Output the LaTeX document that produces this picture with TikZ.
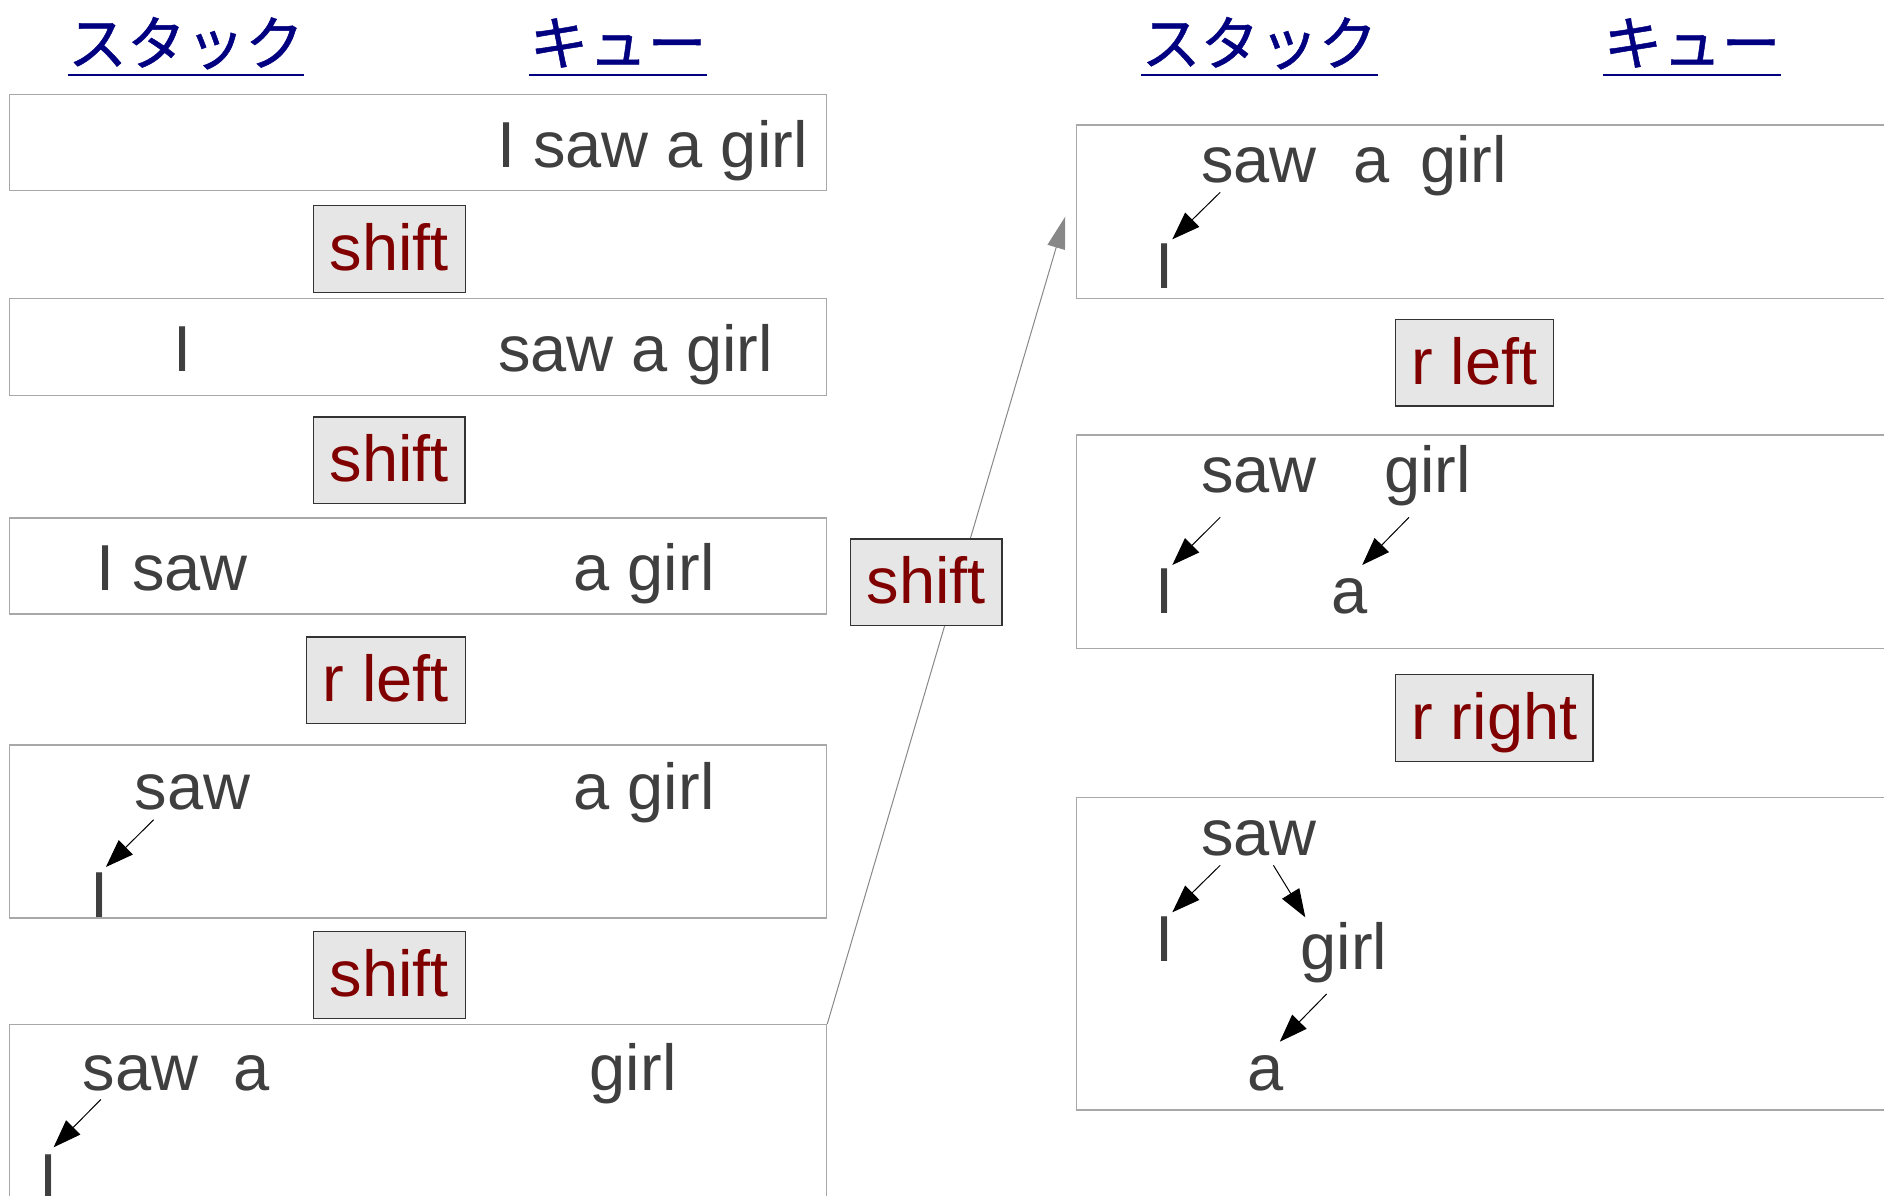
\documentclass[tikz,border=0pt]{standalone}
\usepackage{fontspec}
\setmainfont{Liberation Sans}
\newfontfamily\jpfont[FakeBold=0.8]{Noto Sans CJK JP}
\usetikzlibrary{arrows.meta,calc}
\definecolor{txtgrey}{HTML}{3F3F3F}
\definecolor{boxline}{HTML}{A8A8A8}
\definecolor{btnfill}{HTML}{E6E6E6}
\definecolor{btnline}{HTML}{333333}
\definecolor{btntext}{HTML}{800000}
\definecolor{headblue}{HTML}{000080}
\definecolor{linkgrey}{HTML}{888888}
\tikzset{
 word/.style={inner sep=0pt, outer sep=0pt, anchor=base west, text=txtgrey, font=\fontsize{65}{78}\selectfont},
 statebox/.style={draw=boxline, line width=1.5pt, fill=white, inner sep=0pt},
 opbtn/.style={draw=btnline, line width=1.3pt, fill=btnfill, text=btntext, font=\fontsize{65}{78}\selectfont, inner sep=0pt, minimum height=86.6pt, text height=43pt, text depth=0pt},
 header/.style={inner sep=0pt, anchor=base, text=headblue, font=\jpfont\fontsize{59}{70}\selectfont},
 uline/.style={draw=headblue, line width=2.8pt},
 dep/.style={draw=black, line width=1pt, -{Triangle[length=28pt,width=20pt]}},
 link/.style={draw=linkgrey, line width=1pt, -{Triangle[length=32pt,width=18pt]}}
}
\begin{document}
\begin{tikzpicture}[x=1pt,y=-1pt]
\useasboundingbox (0,0) rectangle (1884,1196);
\clip (0,0) rectangle (1884,1196);
\fill[white] (0,0) rectangle (1884,1196);
% headers
\node[header] (h1) at (186,65) {スタック};
\node[header] (h2) at (618,65) {キュー};
\node[header] (h3) at (1259.5,65) {スタック};
\node[header] (h4) at (1692,65) {キュー};
\foreach \h in {h1,h2,h3,h4}{
  \draw[uline] ($(\h.base west)+(0,10)$) -- ($(\h.base east)+(0,10)$);
}
% state boxes
\node[statebox, minimum width=817pt, minimum height=96pt] (b1) at (418,142.5) {};
\node[statebox, minimum width=817pt, minimum height=96.6pt] (b2) at (418,347) {};
\node[statebox, minimum width=817pt, minimum height=96pt] (b3) at (418,566) {};
\node[statebox, minimum width=817pt, minimum height=173pt] (b4) at (418,831.5) {};
\node[statebox, minimum width=817pt, minimum height=235.3pt] (b5) at (418,1142.35) {};
\node[statebox, minimum width=873.4pt, minimum height=173.3pt] (r1) at (1513.3,211.65) {};
\node[statebox, minimum width=873.4pt, minimum height=213.3pt] (r2) at (1513.3,541.65) {};
\node[statebox, minimum width=873.4pt, minimum height=312.3pt] (r3) at (1513.3,953.85) {};
% link from last left state to first right state
\draw[link] (b5.north east) -- ($(r1.west)+(-10.6,5)$);
% operation buttons
\node[opbtn, minimum width=152pt] (sh1) at (389.4,249) {shift};
\node[opbtn, minimum width=151.4pt] (sh2) at (389.3,460.2) {shift};
\node[opbtn, minimum width=159pt] (rl1) at (385.7,680.2) {r left};
\node[opbtn, minimum width=152.5pt] (sh3) at (389.4,974.9) {shift};
\node[opbtn, minimum width=151.3pt] (shm) at (926.4,582.2) {shift};
\node[opbtn, minimum width=158.5pt] (rl2) at (1474.5,362.8) {r left};
\node[opbtn, minimum width=197.3pt] (rr) at (1494.4,718) {r right};
% box 1
\node[word] (t1) at (497,167.7) {I saw a girl};
% box 2
\node[word] (t2a) at (173,371) {I};
\node[word] (t2b) at (498.3,371) {saw a girl};
% box 3
\node[word] (t3a) at (96.2,590) {I saw};
\node[word] (t3b) at (573.7,590) {a girl};
% box 4
\node[word] (t4a) at (134.6,809.3) {saw};
\node[word] (t4b) at (573.7,809.3) {a girl};
\node[word] (t4c) at (90.9,917) {I};
\draw[dep] ($(t4a.base west)+(19,10.5)$) -- ($(t4c.base west)+(15,-50)$);
% box 5
\node[word] (t5a) at (82.8,1090) {saw};
\node[word] (t5b) at (233.7,1090) {a};
\node[word] (t5c) at (589.8,1090) {girl};
\node[word] (t5d) at (39.9,1199) {I};
\draw[dep] ($(t5a.base west)+(18,9.5)$) -- ($(t5d.base west)+(13.7,-51.7)$);
% right box 1
\node[word] (u1a) at (1201.2,182.7) {saw};
\node[word] (u1b) at (1353.6,182.7) {a};
\node[word] (u1c) at (1420.3,182.7) {girl};
\node[word] (u1d) at (1155.7,288.3) {I};
\draw[dep] ($(u1a.base west)+(19,9.6)$) -- ($(u1d.base west)+(16.6,-49)$);
% right box 2
\node[word] (u2a) at (1201.2,492.7) {saw};
\node[word] (u2b) at (1384.2,492.7) {girl};
\node[word] (u2c) at (1155.7,613.3) {I};
\node[word] (u2d) at (1331.2,613.3) {a};
\draw[dep] ($(u2a.base west)+(19,24.6)$) -- ($(u2c.base west)+(16.6,-48.3)$);
\draw[dep] ($(u2b.base west)+(24.8,24.6)$) -- ($(u2d.base west)+(31,-48.3)$);
% right box 3
\node[word] (u3a) at (1201.2,855) {saw};
\node[word] (u3b) at (1155.7,961.7) {I};
\node[word] (u3c) at (1300.7,969.3) {girl};
\node[word] (u3d) at (1247.2,1090) {a};
\draw[dep] ($(u3a.base west)+(19,10.3)$) -- ($(u3b.base west)+(16.6,-49.4)$);
\draw[dep] ($(u3a.base west)+(72.2,10.3)$) -- ($(u3c.base west)+(4.6,-52)$);
\draw[dep] ($(u3c.base west)+(25.9,24.7)$) -- ($(u3d.base west)+(32.6,-48.3)$);
\end{tikzpicture}
\end{document}
